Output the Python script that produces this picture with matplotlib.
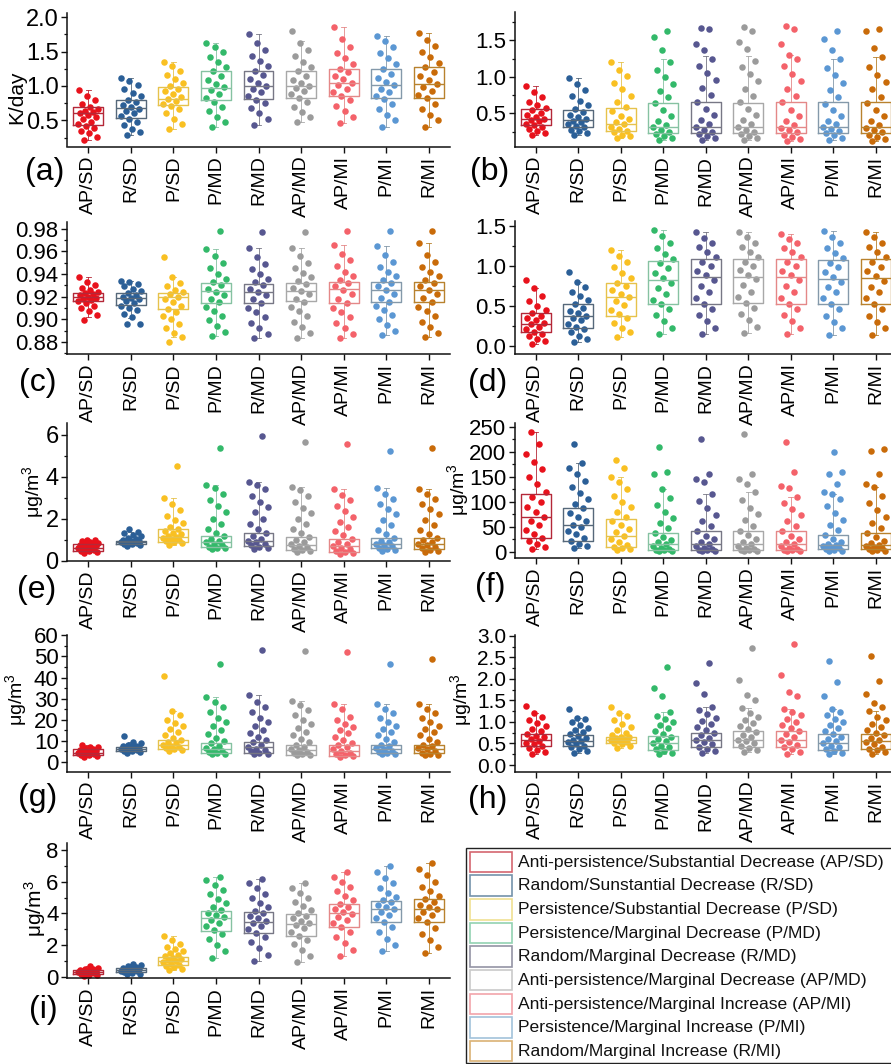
import numpy as np
import matplotlib
matplotlib.use("Agg")
import matplotlib.pyplot as plt
from matplotlib.patches import Rectangle
from matplotlib.ticker import FormatStrFormatter

plt.rcParams['font.family'] = ['Liberation Sans', 'DejaVu Sans']
plt.rcParams['mathtext.fontset'] = 'custom'
plt.rcParams['mathtext.rm'] = 'Liberation Sans'
plt.rcParams['mathtext.it'] = 'Liberation Sans:italic'
plt.rcParams['mathtext.bf'] = 'Liberation Sans:bold'

# ---------------- data ----------------
CATEGORIES = ["AP/SD", "R/SD", "P/SD", "P/MD", "R/MD", "AP/MD", "AP/MI", "P/MI", "R/MI"]
LEGEND_LABELS = [
    "Anti-persistence/Substantial Decrease (AP/SD)",
    "Random/Sunstantial Decrease (R/SD)",
    "Persistence/Substantial Decrease (P/SD)",
    "Persistence/Marginal Decrease (P/MD)",
    "Random/Marginal Decrease (R/MD)",
    "Anti-persistence/Marginal Decrease (AP/MD)",
    "Anti-persistence/Marginal Increase (AP/MI)",
    "Persistence/Marginal Increase (P/MI)",
    "Random/Marginal Increase (R/MI)",
]
POINT_COLORS = ["#E8121C", "#2B5F97", "#F9C022", "#33B96A", "#575790",
                "#9B9B9B", "#F4626A", "#5B97D3", "#C96B09"]
BOX_COLORS = ["#B42838", "#56687A", "#E6C24C", "#86C2A2", "#777785",
              "#A8A8A8", "#E48888", "#8499AA", "#B8822E"]
LEGEND_EDGES = ["#D46670", "#7492AA", "#F0E092", "#92D2B2", "#9494A4",
                "#CACACA", "#F2A4AA", "#A2C2DA", "#DAB274"]

# box stats per category: (whisker low, Q1, median, Q3, whisker high)
A_BOX = [(0.21, 0.43, 0.60, 0.69, 0.94), (0.28, 0.53, 0.68, 0.79, 1.11), (0.38, 0.72, 0.81, 0.98, 1.35),
         (0.40, 0.79, 0.97, 1.21, 1.63), (0.43, 0.81, 1.00, 1.22, 1.75), (0.47, 0.83, 1.00, 1.22, 1.65),
         (0.46, 0.86, 1.05, 1.25, 1.85), (0.40, 0.82, 1.01, 1.25, 1.72), (0.41, 0.83, 1.03, 1.27, 1.77)]
A_PTS = [
    [0.21, 0.26, 0.31, 0.35, 0.39, 0.42, 0.45, 0.48, 0.52, 0.55, 0.58, 0.60, 0.62, 0.64, 0.67, 0.70, 0.74, 0.79, 0.85, 0.94],
    [0.28, 0.33, 0.38, 0.43, 0.48, 0.52, 0.56, 0.60, 0.64, 0.67, 0.70, 0.73, 0.76, 0.80, 0.85, 0.90, 0.96, 1.02, 1.07, 1.11],
    [0.38, 0.45, 0.52, 0.60, 0.66, 0.71, 0.74, 0.78, 0.81, 0.84, 0.88, 0.92, 0.96, 1.00, 1.05, 1.10, 1.16, 1.22, 1.29, 1.35],
    [0.40, 0.47, 0.55, 0.63, 0.70, 0.77, 0.82, 0.88, 0.94, 0.98, 1.03, 1.09, 1.15, 1.21, 1.28, 1.35, 1.42, 1.50, 1.57, 1.63],
    [0.43, 0.52, 0.60, 0.68, 0.75, 0.80, 0.85, 0.91, 0.96, 1.00, 1.05, 1.10, 1.16, 1.22, 1.29, 1.36, 1.44, 1.52, 1.62, 1.75],
    [0.47, 0.55, 0.62, 0.70, 0.77, 0.83, 0.88, 0.93, 0.97, 1.00, 1.04, 1.09, 1.15, 1.21, 1.28, 1.35, 1.43, 1.52, 1.62, 1.80],
    [0.46, 0.55, 0.63, 0.71, 0.79, 0.86, 0.91, 0.96, 1.01, 1.05, 1.10, 1.15, 1.20, 1.25, 1.32, 1.40, 1.48, 1.57, 1.68, 1.85],
    [0.40, 0.50, 0.58, 0.66, 0.74, 0.81, 0.86, 0.91, 0.96, 1.01, 1.06, 1.12, 1.18, 1.25, 1.32, 1.40, 1.48, 1.56, 1.65, 1.72],
    [0.41, 0.50, 0.58, 0.66, 0.74, 0.82, 0.87, 0.93, 0.98, 1.03, 1.08, 1.14, 1.20, 1.27, 1.34, 1.42, 1.50, 1.58, 1.67, 1.77],
]

B_BOX = [(0.20, 0.34, 0.43, 0.56, 0.87), (0.20, 0.32, 0.41, 0.55, 0.98), (0.17, 0.26, 0.36, 0.58, 1.20),
         (0.14, 0.235, 0.32, 0.645, 1.25), (0.13, 0.23, 0.32, 0.66, 1.28), (0.13, 0.23, 0.32, 0.645, 1.28),
         (0.12, 0.23, 0.32, 0.66, 1.30), (0.14, 0.235, 0.32, 0.65, 1.25), (0.12, 0.235, 0.32, 0.65, 1.27)]
B_PTS = [
    [0.20, 0.23, 0.26, 0.29, 0.32, 0.34, 0.36, 0.39, 0.41, 0.43, 0.45, 0.48, 0.51, 0.54, 0.57, 0.61, 0.66, 0.72, 0.79, 0.87],
    [0.20, 0.23, 0.26, 0.28, 0.31, 0.33, 0.35, 0.38, 0.40, 0.42, 0.45, 0.48, 0.52, 0.56, 0.61, 0.67, 0.74, 0.82, 0.90, 0.98],
    [0.17, 0.19, 0.21, 0.24, 0.26, 0.29, 0.32, 0.35, 0.38, 0.42, 0.47, 0.53, 0.59, 0.66, 0.74, 0.83, 0.92, 1.01, 1.10, 1.20],
    [0.14, 0.16, 0.19, 0.22, 0.25, 0.28, 0.31, 0.34, 0.40, 0.47, 0.55, 0.64, 0.72, 0.81, 0.90, 1.00, 1.10, 1.20, 1.36, 1.55, 1.63],
    [0.13, 0.16, 0.19, 0.22, 0.25, 0.28, 0.31, 0.35, 0.41, 0.48, 0.56, 0.66, 0.75, 0.85, 0.95, 1.05, 1.15, 1.25, 1.36, 1.45, 1.65, 1.67],
    [0.13, 0.16, 0.19, 0.22, 0.25, 0.28, 0.31, 0.35, 0.41, 0.48, 0.56, 0.65, 0.74, 0.84, 0.94, 1.04, 1.14, 1.22, 1.38, 1.47, 1.63, 1.68],
    [0.12, 0.15, 0.18, 0.21, 0.24, 0.27, 0.30, 0.34, 0.40, 0.47, 0.55, 0.65, 0.74, 0.84, 0.94, 1.04, 1.15, 1.25, 1.30, 1.45, 1.66, 1.70],
    [0.14, 0.17, 0.20, 0.23, 0.26, 0.29, 0.32, 0.36, 0.39, 0.46, 0.54, 0.63, 0.72, 0.82, 0.92, 1.02, 1.12, 1.25, 1.37, 1.52, 1.62],
    [0.12, 0.15, 0.18, 0.21, 0.24, 0.27, 0.30, 0.34, 0.40, 0.47, 0.55, 0.64, 0.73, 0.83, 0.93, 1.03, 1.13, 1.27, 1.39, 1.62, 1.65],
]

C_BOX = [(0.902, 0.9165, 0.920, 0.923, 0.937), (0.9015, 0.913, 0.9186, 0.923, 0.934), (0.884, 0.909, 0.9195, 0.923, 0.937),
         (0.885, 0.914, 0.925, 0.932, 0.962), (0.883, 0.914, 0.9245, 0.931, 0.963), (0.883, 0.916, 0.925, 0.932, 0.963),
         (0.883, 0.9147, 0.9265, 0.9332, 0.966), (0.886, 0.915, 0.926, 0.933, 0.965), (0.884, 0.915, 0.926, 0.933, 0.967)]
C_PTS = [
    [0.8995, 0.904, 0.907, 0.910, 0.912, 0.914, 0.916, 0.917, 0.918, 0.919, 0.920, 0.921, 0.922, 0.923, 0.924, 0.926, 0.928, 0.930, 0.933, 0.937],
    [0.8955, 0.896, 0.902, 0.905, 0.908, 0.910, 0.912, 0.914, 0.916, 0.918, 0.919, 0.920, 0.921, 0.923, 0.925, 0.927, 0.929, 0.931, 0.933, 0.934],
    [0.880, 0.884, 0.888, 0.892, 0.896, 0.900, 0.903, 0.906, 0.909, 0.912, 0.915, 0.918, 0.920, 0.922, 0.924, 0.926, 0.929, 0.932, 0.937, 0.955],
    [0.885, 0.889, 0.894, 0.899, 0.903, 0.907, 0.911, 0.915, 0.918, 0.921, 0.924, 0.927, 0.930, 0.933, 0.936, 0.940, 0.945, 0.950, 0.956, 0.962, 0.978],
    [0.883, 0.887, 0.892, 0.897, 0.902, 0.906, 0.910, 0.914, 0.918, 0.921, 0.924, 0.927, 0.930, 0.933, 0.936, 0.940, 0.944, 0.949, 0.955, 0.963, 0.977],
    [0.883, 0.888, 0.893, 0.898, 0.903, 0.907, 0.911, 0.915, 0.918, 0.922, 0.925, 0.928, 0.931, 0.934, 0.937, 0.941, 0.945, 0.950, 0.956, 0.963, 0.977],
    [0.883, 0.887, 0.892, 0.897, 0.902, 0.906, 0.910, 0.914, 0.918, 0.922, 0.926, 0.929, 0.932, 0.935, 0.938, 0.942, 0.947, 0.952, 0.958, 0.966, 0.978],
    [0.886, 0.890, 0.895, 0.900, 0.904, 0.908, 0.912, 0.915, 0.919, 0.922, 0.926, 0.929, 0.932, 0.935, 0.938, 0.942, 0.946, 0.951, 0.957, 0.965, 0.978],
    [0.884, 0.888, 0.893, 0.898, 0.903, 0.907, 0.911, 0.915, 0.919, 0.922, 0.926, 0.929, 0.932, 0.935, 0.938, 0.942, 0.946, 0.951, 0.957, 0.967, 0.978],
]

D_BOX = [(0.03, 0.17, 0.275, 0.41, 0.72), (0.05, 0.23, 0.375, 0.52, 0.80), (0.11, 0.37, 0.61, 0.79, 1.20),
         (0.15, 0.52, 0.825, 1.06, 1.45), (0.15, 0.53, 0.86, 1.08, 1.42), (0.16, 0.54, 0.86, 1.08, 1.42),
         (0.15, 0.53, 0.86, 1.08, 1.40), (0.14, 0.53, 0.83, 1.07, 1.43), (0.14, 0.53, 0.85, 1.08, 1.42)]
D_PTS = [
    [0.03, 0.06, 0.09, 0.12, 0.15, 0.18, 0.21, 0.24, 0.27, 0.29, 0.32, 0.35, 0.38, 0.41, 0.45, 0.50, 0.56, 0.63, 0.72, 0.82],
    [0.05, 0.09, 0.13, 0.17, 0.21, 0.24, 0.28, 0.32, 0.35, 0.38, 0.41, 0.44, 0.48, 0.52, 0.57, 0.62, 0.68, 0.74, 0.80, 0.92],
    [0.11, 0.17, 0.23, 0.29, 0.35, 0.40, 0.45, 0.51, 0.56, 0.61, 0.65, 0.70, 0.75, 0.79, 0.85, 0.91, 0.98, 1.05, 1.12, 1.20],
    [0.15, 0.23, 0.31, 0.39, 0.46, 0.52, 0.58, 0.65, 0.72, 0.79, 0.85, 0.91, 0.97, 1.03, 1.09, 1.15, 1.22, 1.29, 1.37, 1.45],
    [0.15, 0.23, 0.31, 0.39, 0.46, 0.53, 0.60, 0.67, 0.75, 0.82, 0.88, 0.94, 1.00, 1.05, 1.11, 1.17, 1.23, 1.29, 1.35, 1.42],
    [0.16, 0.24, 0.32, 0.40, 0.47, 0.54, 0.61, 0.68, 0.76, 0.83, 0.89, 0.95, 1.00, 1.05, 1.11, 1.17, 1.23, 1.29, 1.36, 1.42],
    [0.15, 0.23, 0.31, 0.39, 0.46, 0.53, 0.60, 0.67, 0.75, 0.82, 0.88, 0.94, 1.00, 1.05, 1.11, 1.17, 1.22, 1.28, 1.34, 1.40],
    [0.14, 0.22, 0.30, 0.38, 0.46, 0.53, 0.60, 0.67, 0.74, 0.80, 0.86, 0.92, 0.98, 1.04, 1.10, 1.16, 1.22, 1.29, 1.36, 1.43],
    [0.14, 0.22, 0.30, 0.38, 0.46, 0.53, 0.60, 0.67, 0.74, 0.81, 0.87, 0.93, 0.99, 1.05, 1.11, 1.17, 1.23, 1.29, 1.36, 1.42],
]

E_BOX = [(0.35, 0.48, 0.62, 0.80, 1.00), (0.70, 0.80, 0.87, 0.95, 1.35), (0.75, 0.91, 1.12, 1.50, 3.00),
         (0.55, 0.64, 0.91, 1.15, 3.60), (0.55, 0.70, 0.95, 1.31, 3.75), (0.40, 0.51, 0.75, 1.12, 3.50),
         (0.30, 0.43, 0.70, 1.02, 3.40), (0.45, 0.59, 0.80, 1.07, 3.45), (0.40, 0.54, 0.80, 1.07, 3.40)]
E_PTS = [
    [0.35, 0.40, 0.44, 0.48, 0.52, 0.56, 0.60, 0.62, 0.65, 0.68, 0.71, 0.75, 0.78, 0.81, 0.85, 0.88, 0.92, 0.96, 1.00],
    [0.70, 0.74, 0.77, 0.80, 0.83, 0.85, 0.87, 0.89, 0.91, 0.93, 0.95, 0.98, 1.02, 1.08, 1.15, 1.22, 1.30, 1.35, 1.50],
    [0.75, 0.82, 0.88, 0.92, 0.97, 1.02, 1.08, 1.12, 1.18, 1.25, 1.33, 1.42, 1.50, 1.62, 1.78, 1.95, 2.15, 2.40, 2.70, 3.00, 4.50],
    [0.55, 0.58, 0.62, 0.66, 0.72, 0.80, 0.88, 0.95, 1.05, 1.15, 1.30, 1.50, 1.75, 2.00, 2.30, 2.60, 2.90, 3.20, 3.45, 3.60, 5.35],
    [0.55, 0.60, 0.66, 0.72, 0.80, 0.88, 0.95, 1.05, 1.18, 1.31, 1.50, 1.75, 2.00, 2.30, 2.55, 2.80, 3.10, 3.40, 3.60, 3.75, 5.95],
    [0.40, 0.45, 0.50, 0.56, 0.63, 0.70, 0.78, 0.88, 1.00, 1.12, 1.30, 1.50, 1.75, 2.00, 2.25, 2.50, 2.80, 3.10, 3.35, 3.50, 5.65],
    [0.30, 0.36, 0.42, 0.48, 0.55, 0.62, 0.70, 0.80, 0.90, 1.02, 1.20, 1.40, 1.60, 1.85, 2.10, 2.35, 2.60, 2.90, 3.15, 3.40, 5.55],
    [0.45, 0.50, 0.56, 0.62, 0.68, 0.74, 0.80, 0.87, 0.95, 1.07, 1.25, 1.45, 1.70, 1.95, 2.20, 2.45, 2.70, 2.95, 3.20, 3.45, 5.25],
    [0.40, 0.46, 0.52, 0.58, 0.65, 0.72, 0.80, 0.88, 0.97, 1.07, 1.25, 1.45, 1.70, 1.95, 2.20, 2.45, 2.70, 2.95, 3.20, 3.40, 5.35],
]

F_BOX = [(5, 27, 70, 116, 240), (8, 22, 54, 87, 178), (3, 10, 32, 65, 150),
         (1, 3.4, 15, 38, 125), (1, 3.4, 15, 42, 115), (1, 3.4, 15, 42, 120),
         (1, 3.4, 15, 42, 110), (1, 5, 13, 34, 115), (1, 5, 13, 38, 130)]
F_PTS = [
    [5, 10, 15, 21, 27, 35, 44, 53, 62, 70, 80, 90, 100, 110, 120, 135, 150, 165, 180, 195, 215, 240],
    [8, 12, 16, 22, 28, 35, 42, 49, 54, 62, 70, 78, 87, 96, 106, 118, 130, 142, 155, 168, 178, 215],
    [3, 5, 8, 10, 14, 19, 25, 32, 39, 46, 54, 62, 70, 80, 90, 100, 112, 125, 140, 150, 168, 183],
    [1, 2, 3, 4, 6, 8, 11, 15, 19, 24, 30, 38, 47, 57, 68, 80, 93, 108, 125, 155, 160, 210],
    [1, 2, 3, 4, 6, 8, 11, 15, 19, 25, 32, 42, 52, 62, 74, 88, 102, 115, 140, 145, 155, 226],
    [1, 2, 3, 4, 6, 8, 11, 15, 20, 26, 33, 42, 52, 63, 75, 88, 103, 120, 135, 145, 156, 236],
    [1, 2, 3, 4, 6, 8, 11, 15, 19, 25, 32, 42, 52, 62, 74, 86, 98, 110, 128, 132, 160, 219],
    [1, 2, 4, 5, 7, 9, 11, 13, 16, 20, 26, 34, 43, 53, 64, 77, 92, 106, 115, 120, 135, 155, 160, 199],
    [1, 2, 4, 5, 7, 9, 11, 13, 17, 22, 29, 38, 47, 58, 70, 83, 97, 112, 130, 135, 155, 202, 205],
]

G_BOX = [(2.5, 3.2, 4.3, 5.9, 7.8), (4.0, 5.2, 6.3, 7.1, 9.5), (5.0, 6.3, 7.9, 10.3, 24),
         (3.5, 4.3, 5.9, 8.7, 31), (3.5, 4.3, 7.1, 9.2, 31.5), (3.0, 3.2, 5.5, 8.2, 29),
         (2.5, 2.9, 5.2, 7.9, 27.5), (3.5, 4.0, 5.9, 8.2, 27.5), (3.0, 4.0, 5.9, 8.2, 27.5)]
G_PTS = [
    [2.5, 2.8, 3.1, 3.4, 3.7, 4.0, 4.3, 4.6, 4.9, 5.2, 5.5, 5.8, 6.1, 6.4, 6.8, 7.2, 7.8],
    [4.0, 4.5, 5.0, 5.3, 5.6, 5.9, 6.2, 6.4, 6.6, 6.8, 7.0, 7.3, 7.7, 8.2, 8.8, 9.5, 12.2],
    [5.0, 5.6, 6.2, 6.7, 7.2, 7.7, 8.2, 8.8, 9.5, 10.3, 11.3, 12.5, 14, 15.5, 17, 18.5, 20, 22, 24, 40.6],
    [3.5, 3.9, 4.3, 4.8, 5.3, 5.9, 6.6, 7.5, 8.7, 10, 11.5, 13, 15, 17, 19, 21, 23.5, 26, 28.5, 31, 46.3],
    [3.5, 3.9, 4.3, 4.9, 5.5, 6.2, 7.1, 8.0, 9.2, 10.5, 12, 13.5, 15, 17, 19, 21, 23.5, 26, 28.5, 31.5, 53.2],
    [3.0, 3.3, 3.7, 4.2, 4.8, 5.5, 6.2, 7.0, 8.2, 9.5, 11, 12.5, 14, 16, 18, 20, 22, 24.5, 27, 29, 52.6],
    [2.5, 2.8, 3.2, 3.7, 4.3, 5.2, 6.0, 6.9, 7.9, 9, 10.5, 12, 13.5, 15, 16.5, 18, 20, 21.5, 25, 27.5, 52.1],
    [3.5, 3.8, 4.2, 4.7, 5.3, 5.9, 6.6, 7.3, 8.2, 9.5, 11, 12.5, 14, 15.5, 17, 19, 21, 23, 25, 27.5, 46.3],
    [3.0, 3.4, 3.8, 4.3, 4.9, 5.9, 6.6, 7.3, 8.2, 9.5, 11, 12.5, 14, 15.5, 17, 19, 21, 23, 25, 27.5, 49.0],
]

H_BOX = [(0.25, 0.44, 0.58, 0.73, 1.20), (0.27, 0.44, 0.56, 0.69, 1.10), (0.40, 0.50, 0.58, 0.65, 1.20),
         (0.25, 0.36, 0.50, 0.68, 1.22), (0.28, 0.42, 0.58, 0.75, 1.35), (0.30, 0.42, 0.59, 0.79, 1.32),
         (0.25, 0.42, 0.59, 0.79, 1.30), (0.25, 0.36, 0.50, 0.71, 1.30), (0.25, 0.38, 0.56, 0.73, 1.25)]
H_PTS = [
    [0.25, 0.30, 0.35, 0.40, 0.44, 0.48, 0.52, 0.56, 0.60, 0.64, 0.68, 0.73, 0.78, 0.84, 0.90, 0.97, 1.05, 1.12, 1.20, 1.38],
    [0.27, 0.32, 0.37, 0.41, 0.45, 0.49, 0.53, 0.56, 0.59, 0.63, 0.67, 0.71, 0.76, 0.81, 0.87, 0.93, 1.00, 1.06, 1.10, 1.29],
    [0.40, 0.44, 0.48, 0.51, 0.54, 0.56, 0.58, 0.60, 0.62, 0.64, 0.66, 0.70, 0.75, 0.81, 0.88, 0.96, 1.05, 1.13, 1.20, 1.35],
    [0.25, 0.29, 0.33, 0.37, 0.41, 0.45, 0.50, 0.55, 0.60, 0.66, 0.72, 0.79, 0.86, 0.93, 1.00, 1.08, 1.15, 1.22, 1.60, 1.79, 2.27],
    [0.28, 0.33, 0.38, 0.43, 0.48, 0.53, 0.58, 0.63, 0.69, 0.75, 0.82, 0.89, 0.96, 1.03, 1.10, 1.18, 1.27, 1.35, 1.65, 1.90, 2.36],
    [0.30, 0.35, 0.40, 0.45, 0.50, 0.55, 0.59, 0.64, 0.70, 0.77, 0.84, 0.91, 0.98, 1.05, 1.12, 1.20, 1.32, 1.50, 1.63, 1.97, 2.71],
    [0.25, 0.31, 0.37, 0.42, 0.47, 0.53, 0.59, 0.65, 0.72, 0.79, 0.86, 0.93, 1.00, 1.08, 1.16, 1.24, 1.30, 1.60, 1.70, 2.08, 2.82],
    [0.25, 0.29, 0.33, 0.37, 0.41, 0.45, 0.50, 0.55, 0.60, 0.66, 0.72, 0.79, 0.86, 0.93, 1.00, 1.08, 1.16, 1.24, 1.30, 1.60, 1.92, 2.41],
    [0.25, 0.30, 0.34, 0.38, 0.43, 0.48, 0.53, 0.58, 0.63, 0.69, 0.75, 0.82, 0.89, 0.96, 1.04, 1.12, 1.25, 1.35, 1.45, 1.65, 1.96, 2.54],
]

I_BOX = [(0.05, 0.17, 0.30, 0.42, 0.65), (0.15, 0.32, 0.42, 0.53, 0.80), (0.40, 0.74, 0.99, 1.26, 2.55),
         (1.2, 2.9, 3.69, 4.17, 6.3), (1.0, 2.74, 3.47, 4.10, 6.2), (0.9, 2.57, 3.33, 3.96, 5.9),
         (1.3, 3.12, 4.0, 4.59, 6.6), (1.6, 3.43, 4.28, 4.8, 7.0), (1.5, 3.43, 4.28, 4.9, 7.2)]
I_PTS = [
    [0.05, 0.10, 0.14, 0.18, 0.21, 0.24, 0.27, 0.30, 0.33, 0.36, 0.39, 0.42, 0.46, 0.51, 0.57, 0.65],
    [0.15, 0.20, 0.25, 0.29, 0.33, 0.36, 0.39, 0.42, 0.45, 0.48, 0.51, 0.55, 0.60, 0.67, 0.74, 0.80],
    [0.40, 0.50, 0.60, 0.68, 0.75, 0.82, 0.90, 0.98, 1.05, 1.12, 1.20, 1.28, 1.38, 1.50, 1.62, 1.75, 1.90, 2.05, 2.30, 2.55],
    [1.2, 1.6, 2.0, 2.4, 2.7, 2.95, 3.2, 3.4, 3.6, 3.75, 3.9, 4.05, 4.2, 4.4, 4.65, 4.9, 5.2, 5.5, 5.8, 6.1, 6.3],
    [1.0, 1.4, 1.8, 2.2, 2.5, 2.75, 3.0, 3.2, 3.4, 3.55, 3.7, 3.85, 4.0, 4.15, 4.4, 4.65, 4.95, 5.25, 5.6, 5.9, 6.2],
    [0.9, 1.3, 1.7, 2.05, 2.35, 2.6, 2.85, 3.05, 3.25, 3.4, 3.55, 3.7, 3.85, 4.0, 4.2, 4.45, 4.7, 5.0, 5.3, 5.6, 5.9],
    [1.3, 1.7, 2.1, 2.5, 2.85, 3.15, 3.4, 3.6, 3.8, 3.95, 4.1, 4.25, 4.4, 4.6, 4.85, 5.1, 5.4, 5.7, 6.0, 6.3, 6.6],
    [1.6, 2.0, 2.4, 2.8, 3.15, 3.45, 3.7, 3.9, 4.1, 4.25, 4.4, 4.55, 4.7, 4.85, 5.05, 5.3, 5.6, 5.9, 6.25, 6.6, 7.0],
    [1.5, 1.9, 2.3, 2.7, 3.1, 3.45, 3.7, 3.9, 4.1, 4.25, 4.4, 4.55, 4.7, 4.9, 5.1, 5.4, 5.7, 6.0, 6.4, 6.8, 7.2],
]

# ---------------- layout ----------------
W, H = 891, 1064
fig = plt.figure(figsize=(W / 100, H / 100), dpi=100)
fig.patch.set_facecolor("white")

UNIT = "μg/m$^{3}$"
PANELS = [
    # label, box, pts, (left, top, right, bottom) px, ylim, major, minor step, fmt, tick fs, panel-label pos, ylabel, ylabel pos, ylabel fs
    ("(a)", A_BOX, A_PTS, (67, 13, 450, 146.5), (0.12, 2.06), [0.5, 1.0, 1.5, 2.0], 0.25, "%.1f", 17, (45, 172), "K/day", (17, 97), 15),
    ("(b)", B_BOX, B_PTS, (514.5, 11.7, 897, 146.7), (0.045, 1.89), [0.5, 1.0, 1.5], 0.25, "%.1f", 16, (490, 172), None, None, 0),
    ("(c)", C_BOX, C_PTS, (67, 222, 450, 354.3), (0.869, 0.986), [0.88, 0.90, 0.92, 0.94, 0.96, 0.98], 0.01, "%.2f", 16, (38, 383), None, None, 0),
    ("(d)", D_BOX, D_PTS, (514.5, 221, 897, 354), (-0.1, 1.56), [0.0, 0.5, 1.0, 1.5], 0.25, "%.1f", 16, (488, 383), None, None, 0),
    ("(e)", E_BOX, E_PTS, (67, 423.3, 450, 561), (-0.02, 6.55), [0, 2, 4, 6], 1, "%d", 17, (37, 590), UNIT, (33, 492), 14),
    ("(f)", F_BOX, F_PTS, (514.5, 423, 897, 558.3), (-13, 258), [0, 50, 100, 150, 200, 250], 25, "%d", 16, (490, 587), UNIT, (458, 490), 14),
    ("(g)", G_BOX, G_PTS, (67, 635, 450, 771.7), (-4.7, 60.2), [0, 10, 20, 30, 40, 50, 60], 5, "%d", 16, (38, 798), UNIT, (16, 700), 14),
    ("(h)", H_BOX, H_PTS, (514.5, 635, 897, 771.7), (-0.155, 3.02), [0.0, 0.5, 1.0, 1.5, 2.0, 2.5, 3.0], 0.25, "%.1f", 15, (488, 800), UNIT, (461, 700), 14),
    ("(i)", I_BOX, I_PTS, (67, 843, 450, 978.3), (-0.1, 8.45), [0, 2, 4, 6, 8], 1, "%d", 16, (43, 1010), UNIT, (35, 909), 15),
]

positions = np.arange(1, len(CATEGORIES) + 1)


def jitter(n):
    # deterministic horizontal spread (golden-ratio sequence), positions only
    k = np.arange(n)
    return ((k * 0.6180339887 + 0.31) % 1.0 - 0.5) * 0.50


for (plabel, boxes, pts, rect, ylim, major, minor_step, fmt, tfs,
     lpos, ylab, ylpos, ylfs) in PANELS:
    l, t, r, b = rect
    ax = fig.add_axes([l / W, 1 - b / H, (r - l) / W, (b - t) / H])
    ax.set_facecolor("none")

    for i, vals in enumerate(pts):
        v = np.asarray(vals, dtype=float)
        ax.scatter(positions[i] + jitter(len(v)), v, s=22, color=POINT_COLORS[i],
                   linewidths=0, zorder=2, clip_on=False)

    stats = [dict(whislo=bx[0], q1=bx[1], med=bx[2], q3=bx[3], whishi=bx[4], fliers=[])
             for bx in boxes]
    res = ax.bxp(stats, positions=positions, widths=0.7, showfliers=False,
                 capwidths=0.12, patch_artist=False, manage_ticks=False)
    for i in range(len(CATEGORIES)):
        c = BOX_COLORS[i]
        res["boxes"][i].set(color=c, linewidth=1.0, zorder=3)
        res["medians"][i].set(color=c, linewidth=1.0, zorder=3)
        for w in res["whiskers"][2 * i:2 * i + 2]:
            w.set(color=c, linewidth=0.6, zorder=1)
        for cp in res["caps"][2 * i:2 * i + 2]:
            cp.set(color=c, linewidth=0.6, zorder=1)

    ax.set_xlim(0.5, 9.5)
    ax.set_ylim(*ylim)
    ax.set_yticks(major)
    ax.set_yticks(np.arange(major[0] - minor_step, major[-1] + minor_step * 1.01, minor_step), minor=True)
    ax.set_ylim(*ylim)
    ax.yaxis.set_major_formatter(FormatStrFormatter(fmt))
    ax.set_xticks(positions)
    ax.set_xticklabels(CATEGORIES, rotation=90, fontsize=14)

    for side in ("top", "right"):
        ax.spines[side].set_visible(False)
    for side in ("left", "bottom"):
        ax.spines[side].set_linewidth(1.1)
        ax.spines[side].set_color("#111111")
    ax.tick_params(axis="both", which="major", direction="out", length=4.5, width=1.0,
                   color="#111111", pad=2)
    ax.tick_params(axis="y", which="major", labelsize=tfs, pad=1.5)
    ax.tick_params(axis="y", which="minor", direction="out", length=2.5, width=0.9, color="#111111")
    ax.tick_params(axis="x", which="minor", bottom=False)

    fig.text(lpos[0] / W, 1 - lpos[1] / H, plabel, fontsize=23, ha="center", va="center")
    if ylab is not None:
        fig.text(ylpos[0] / W, 1 - ylpos[1] / H, ylab, fontsize=ylfs, rotation=90,
                 ha="center", va="center")

# ---------------- legend (bottom-right cell) ----------------
lax = fig.add_axes([0, 0, 1, 1])
lax.set_xlim(0, W)
lax.set_ylim(H, 0)
lax.axis("off")
lax.add_patch(Rectangle((466, 848), 440, 215, facecolor="white", edgecolor="#222222",
                        linewidth=1.0, clip_on=False))
for k, (lab, ec) in enumerate(zip(LEGEND_LABELS, LEGEND_EDGES)):
    y0 = 851.7 + k * 23.65
    lax.add_patch(Rectangle((469.5, y0), 42.5, 20.5, facecolor="white", edgecolor=ec, linewidth=1.2))
    lax.text(518, y0 + 10.5, lab, fontsize=12.6, ha="left", va="center", color="#111111")

fig.savefig("out.png", dpi=100)
